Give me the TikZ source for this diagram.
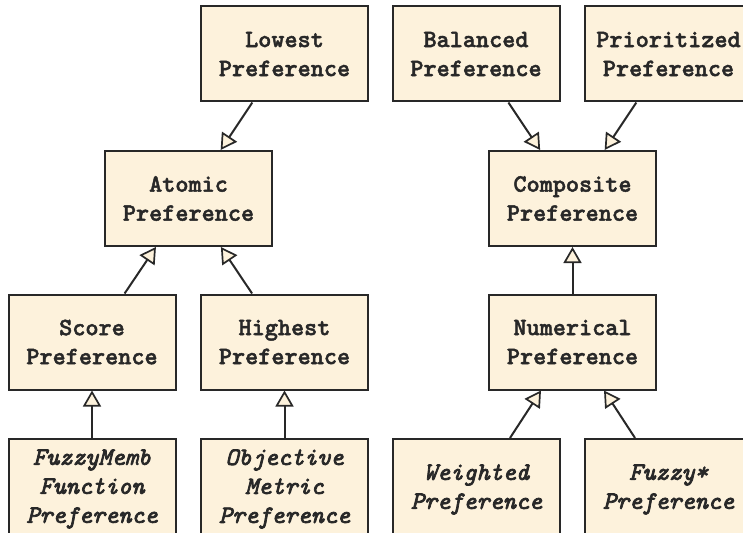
\documentclass[tikz,border=0pt]{standalone}
\usepackage{fontspec}
\newfontfamily\monoup{lmmonolt10-bold.otf}[FakeBold=1.8]
\newfontfamily\monoit{lmmono10-italic.otf}[FakeBold=3]
\usetikzlibrary{arrows.meta}
\definecolor{boxfill}{RGB}{253,242,220}
\definecolor{ink}{RGB}{40,40,40}
\begin{document}
\begin{tikzpicture}[x=1pt,y=-1pt,
  cls/.style={draw=ink, fill=boxfill, line width=2pt, minimum width=167pt, minimum height=95pt,
    inner sep=2pt, align=center, text=ink, font=\fontsize{25}{29}\selectfont\monoup},
  abs/.style={cls, font=\fontsize{25}{29}\selectfont\monoit},
  gen/.style={draw=ink, line width=2pt, -{Triangle[length=16pt,width=18pt,fill=boxfill,line width=1.7pt]}}]
\useasboundingbox (0,0) rectangle (743,532);
\clip (0,0) rectangle (743,532);
\node[cls] (lowest) at (284.5,54) {Lowest\\Preference};
\node[cls] (atomic) at (188.5,198.5) {Atomic\\Preference};
\node[cls] (balanced) at (476,54) {Balanced\\Preference};
\node[cls] (prior) at (668.5,54) {Prioritized\\Preference};
\node[cls] (composite) at (572.5,198.5) {Composite\\Preference};
\node[cls] (score) at (92,342) {Score\\Preference};
\node[cls] (highest) at (284.5,342) {Highest\\Preference};
\node[cls] (numerical) at (572.5,342) {Numerical\\Preference};
\node[abs, minimum height=100pt] (fuzzymemb) at (92,489) {FuzzyMemb\\Function\\Preference};
\node[abs, minimum height=100pt] (objective) at (284.5,489) {Objective\\Metric\\Preference};
\node[abs, minimum height=101pt] (weighted) at (476.5,489.5) {Weighted\\Preference};
\node[abs, minimum height=101pt] (fuzzy) at (668.5,489.5) {Fuzzy*\\Preference};
\draw[gen] (lowest) -- (atomic);
\draw[gen] (balanced) -- (composite);
\draw[gen] (prior) -- (composite);
\draw[gen] (score) -- (atomic);
\draw[gen] (highest) -- (atomic);
\draw[gen] (numerical) -- (composite);
\draw[gen] (fuzzymemb) -- (score);
\draw[gen] (objective) -- (highest);
\draw[gen] (weighted) -- (numerical);
\draw[gen] (fuzzy) -- (numerical);
\end{tikzpicture}
\end{document}
